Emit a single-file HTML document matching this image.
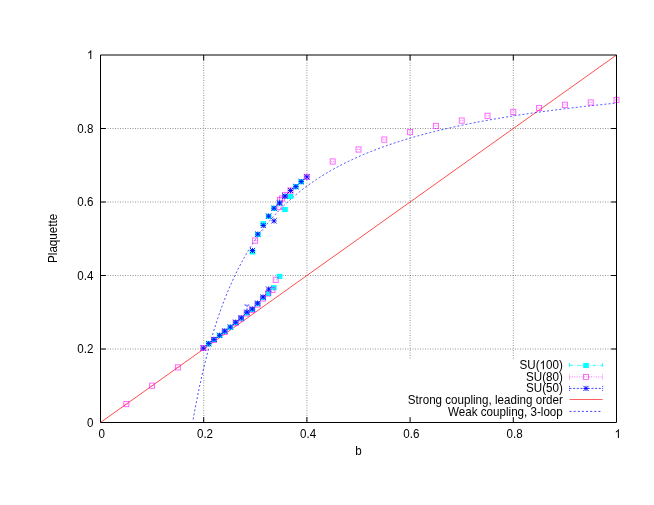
<!DOCTYPE html>
<html><head><meta charset="utf-8"><title>Plaquette vs b</title>
<style>html,body{margin:0;padding:0;background:#fff;}svg{display:block;will-change:transform;}text{font-family:"Liberation Sans",sans-serif;font-size:12.1px;fill:#000;}</style>
</head><body>
<svg width="654" height="505" viewBox="0 0 654 505">
<rect x="0" y="0" width="654" height="505" fill="#fff"/>
<path d="M100 349.0H616.5" stroke="#000" stroke-opacity="0.7" stroke-width="0.6" stroke-dasharray="1 1.5" fill="none"/>
<path d="M100 275.5H616.5" stroke="#000" stroke-opacity="0.7" stroke-width="0.6" stroke-dasharray="1 1.5" fill="none"/>
<path d="M100 202.0H616.5" stroke="#000" stroke-opacity="0.7" stroke-width="0.6" stroke-dasharray="1 1.5" fill="none"/>
<path d="M100 128.5H616.5" stroke="#000" stroke-opacity="0.7" stroke-width="0.6" stroke-dasharray="1 1.5" fill="none"/>
<path d="M203.7 55V422.5" stroke="#000" stroke-opacity="0.7" stroke-width="0.6" stroke-dasharray="1 1.5" fill="none"/>
<path d="M306.9 55V422.5" stroke="#000" stroke-opacity="0.7" stroke-width="0.6" stroke-dasharray="1 1.5" fill="none"/>
<path d="M410.1 55V359.5" stroke="#000" stroke-opacity="0.7" stroke-width="0.6" stroke-dasharray="1 1.5" fill="none"/>
<path d="M513.3 55V359.5" stroke="#000" stroke-opacity="0.7" stroke-width="0.6" stroke-dasharray="1 1.5" fill="none"/>
<path d="M203.7 422.5v-5.4M203.7 55.0v5.4M100.5 349.0h5.4M616.5 349.0h-5.4M306.9 422.5v-5.4M306.9 55.0v5.4M100.5 275.5h5.4M616.5 275.5h-5.4M410.1 422.5v-5.4M410.1 55.0v5.4M100.5 202.0h5.4M616.5 202.0h-5.4M513.3 422.5v-5.4M513.3 55.0v5.4M100.5 128.5h5.4M616.5 128.5h-5.4" stroke="#000" stroke-width="1" fill="none"/>
<path d="M100.5 422.5L616.5 55.0" stroke="#ff0000" stroke-width="0.7" fill="none"/>
<path d="M193.15 419.44 L194.22 413.53 L195.28 407.80 L196.34 402.24 L197.41 396.86 L198.47 391.63 L199.54 386.57 L200.60 381.64 L201.66 376.86 L202.73 372.22 L203.79 367.70 L204.85 363.31 L205.92 359.04 L206.98 354.89 L208.05 350.84 L209.11 346.90 L210.17 343.07 L211.24 339.33 L212.30 335.69 L213.36 332.13 L214.43 328.67 L215.49 325.29 L216.55 321.99 L217.62 318.78 L218.68 315.63 L219.75 312.57 L220.81 309.57 L221.87 306.64 L222.94 303.78 L224.00 300.98 L225.06 298.24 L226.13 295.56 L227.19 292.95 L228.26 290.38 L229.32 287.88 L230.38 285.42 L231.45 283.02 L232.51 280.66 L233.57 278.36 L234.64 276.10 L235.70 273.88 L236.76 271.71 L237.83 269.58 L238.89 267.50 L239.96 265.45 L241.02 263.44 L242.08 261.47 L243.15 259.54 L244.21 257.64 L245.27 255.78 L246.34 253.95 L247.40 252.16 L248.47 250.40 L249.53 248.67 L250.59 246.97 L251.66 245.29 L252.72 243.65 L253.78 242.04 L254.85 240.45 L255.91 238.89 L256.97 237.36 L258.04 235.85 L259.10 234.37 L260.17 232.91 L261.23 231.47 L262.29 230.06 L263.36 228.67 L264.42 227.30 L265.48 225.96 L266.55 224.63 L267.61 223.33 L268.68 222.04 L269.74 220.78 L270.80 219.53 L271.87 218.30 L272.93 217.10 L273.99 215.90 L275.06 214.73 L276.12 213.57 L277.18 212.43 L278.25 211.31 L279.31 210.20 L280.38 209.11 L281.44 208.03 L282.50 206.97 L283.57 205.93 L284.63 204.89 L285.69 203.88 L286.76 202.87 L287.82 201.88 L288.89 200.90 L289.95 199.94 L291.01 198.99 L292.08 198.05 L293.14 197.12 L294.20 196.21 L295.27 195.30 L296.33 194.41 L297.39 193.53 L298.46 192.66 L299.52 191.80 L300.59 190.95 L301.65 190.12 L302.71 189.29 L303.78 188.47 L304.84 187.67 L305.90 186.87 L306.97 186.08 L308.03 185.31 L309.10 184.54 L310.16 183.78 L311.22 183.03 L312.29 182.28 L313.35 181.55 L314.41 180.83 L315.48 180.11 L316.54 179.40 L317.60 178.70 L318.67 178.01 L319.73 177.32 L320.80 176.65 L321.86 175.98 L322.92 175.31 L323.99 174.66 L325.05 174.01 L326.11 173.37 L327.18 172.74 L328.24 172.11 L329.31 171.49 L330.37 170.88 L331.43 170.27 L332.50 169.67 L333.56 169.07 L334.62 168.48 L335.69 167.90 L336.75 167.33 L337.81 166.76 L338.88 166.19 L339.94 165.63 L341.01 165.08 L342.07 164.53 L343.13 163.99 L344.20 163.45 L345.26 162.92 L346.32 162.39 L347.39 161.87 L348.45 161.36 L349.52 160.84 L350.58 160.34 L351.64 159.84 L352.71 159.34 L353.77 158.85 L354.83 158.36 L355.90 157.88 L356.96 157.40 L358.02 156.93 L359.09 156.46 L360.15 155.99 L361.22 155.53 L362.28 155.08 L363.34 154.62 L364.41 154.17 L365.47 153.73 L366.53 153.29 L367.60 152.85 L368.66 152.42 L369.73 151.99 L370.79 151.57 L371.85 151.15 L372.92 150.73 L373.98 150.32 L375.04 149.91 L376.11 149.50 L377.17 149.10 L378.23 148.70 L379.30 148.30 L380.36 147.91 L381.43 147.52 L382.49 147.13 L383.55 146.75 L384.62 146.37 L385.68 145.99 L386.74 145.62 L387.81 145.25 L388.87 144.88 L389.94 144.51 L391.00 144.15 L392.06 143.79 L393.13 143.44 L394.19 143.09 L395.25 142.74 L396.32 142.39 L397.38 142.04 L398.44 141.70 L399.51 141.36 L400.57 141.03 L401.64 140.69 L402.70 140.36 L403.76 140.03 L404.83 139.71 L405.89 139.38 L406.95 139.06 L408.02 138.74 L409.08 138.43 L410.15 138.11 L411.21 137.80 L412.27 137.49 L413.34 137.19 L414.40 136.88 L415.46 136.58 L416.53 136.28 L417.59 135.98 L418.65 135.69 L419.72 135.39 L420.78 135.10 L421.85 134.81 L422.91 134.52 L423.97 134.24 L425.04 133.96 L426.10 133.67 L427.16 133.40 L428.23 133.12 L429.29 132.84 L430.36 132.57 L431.42 132.30 L432.48 132.03 L433.55 131.76 L434.61 131.50 L435.67 131.23 L436.74 130.97 L437.80 130.71 L438.86 130.45 L439.93 130.20 L440.99 129.94 L442.06 129.69 L443.12 129.44 L444.18 129.19 L445.25 128.94 L446.31 128.69 L447.37 128.45 L448.44 128.21 L449.50 127.96 L450.57 127.72 L451.63 127.49 L452.69 127.25 L453.76 127.01 L454.82 126.78 L455.88 126.55 L456.95 126.32 L458.01 126.09 L459.07 125.86 L460.14 125.64 L461.20 125.41 L462.27 125.19 L463.33 124.97 L464.39 124.74 L465.46 124.53 L466.52 124.31 L467.58 124.09 L468.65 123.88 L469.71 123.66 L470.78 123.45 L471.84 123.24 L472.90 123.03 L473.97 122.82 L475.03 122.61 L476.09 122.41 L477.16 122.20 L478.22 122.00 L479.28 121.80 L480.35 121.60 L481.41 121.40 L482.48 121.20 L483.54 121.00 L484.60 120.81 L485.67 120.61 L486.73 120.42 L487.79 120.22 L488.86 120.03 L489.92 119.84 L490.99 119.65 L492.05 119.47 L493.11 119.28 L494.18 119.09 L495.24 118.91 L496.30 118.72 L497.37 118.54 L498.43 118.36 L499.49 118.18 L500.56 118.00 L501.62 117.82 L502.69 117.64 L503.75 117.47 L504.81 117.29 L505.88 117.12 L506.94 116.94 L508.00 116.77 L509.07 116.60 L510.13 116.43 L511.20 116.26 L512.26 116.09 L513.32 115.92 L514.39 115.75 L515.45 115.59 L516.51 115.42 L517.58 115.26 L518.64 115.09 L519.70 114.93 L520.77 114.77 L521.83 114.61 L522.90 114.45 L523.96 114.29 L525.02 114.13 L526.09 113.98 L527.15 113.82 L528.21 113.66 L529.28 113.51 L530.34 113.35 L531.41 113.20 L532.47 113.05 L533.53 112.90 L534.60 112.75 L535.66 112.60 L536.72 112.45 L537.79 112.30 L538.85 112.15 L539.91 112.00 L540.98 111.86 L542.04 111.71 L543.11 111.57 L544.17 111.42 L545.23 111.28 L546.30 111.14 L547.36 111.00 L548.42 110.86 L549.49 110.72 L550.55 110.58 L551.62 110.44 L552.68 110.30 L553.74 110.16 L554.81 110.02 L555.87 109.89 L556.93 109.75 L558.00 109.62 L559.06 109.48 L560.12 109.35 L561.19 109.22 L562.25 109.09 L563.32 108.95 L564.38 108.82 L565.44 108.69 L566.51 108.56 L567.57 108.43 L568.63 108.31 L569.70 108.18 L570.76 108.05 L571.83 107.92 L572.89 107.80 L573.95 107.67 L575.02 107.55 L576.08 107.42 L577.14 107.30 L578.21 107.18 L579.27 107.05 L580.33 106.93 L581.40 106.81 L582.46 106.69 L583.53 106.57 L584.59 106.45 L585.65 106.33 L586.72 106.21 L587.78 106.10 L588.84 105.98 L589.91 105.86 L590.97 105.75 L592.04 105.63 L593.10 105.51 L594.16 105.40 L595.23 105.29 L596.29 105.17 L597.35 105.06 L598.42 104.95 L599.48 104.83 L600.54 104.72 L601.61 104.61 L602.67 104.50 L603.74 104.39 L604.80 104.28 L605.86 104.17 L606.93 104.06 L607.99 103.95 L609.05 103.85 L610.12 103.74 L611.18 103.63 L612.25 103.53 L613.31 103.42 L614.37 103.32 L615.44 103.21 L616.50 103.11" stroke="#0000ff" stroke-width="0.7" stroke-dasharray="2 2.13" fill="none"/>
<g><rect x="205.9" y="341.2" width="5.6" height="5.1" fill="#00ffff"/><rect x="211.2" y="337.1" width="5.6" height="5.1" fill="#00ffff"/><rect x="216.8" y="332.9" width="5.6" height="5.1" fill="#00ffff"/><rect x="221.9" y="328.8" width="5.6" height="5.1" fill="#00ffff"/><rect x="227.5" y="324.8" width="5.6" height="5.1" fill="#00ffff"/><rect x="232.9" y="320.1" width="5.6" height="5.1" fill="#00ffff"/><rect x="238.5" y="315.8" width="5.6" height="5.1" fill="#00ffff"/><rect x="244.1" y="310.4" width="5.6" height="5.1" fill="#00ffff"/><rect x="249.7" y="306.9" width="5.6" height="5.1" fill="#00ffff"/><rect x="254.8" y="301.2" width="5.6" height="5.1" fill="#00ffff"/><rect x="260.3" y="295.1" width="5.6" height="5.1" fill="#00ffff"/><rect x="265.8" y="290.9" width="5.6" height="5.1" fill="#00ffff"/><rect x="271.0" y="285.1" width="5.6" height="5.1" fill="#00ffff"/><rect x="276.7" y="273.8" width="5.6" height="5.1" fill="#00ffff"/><rect x="249.7" y="249.4" width="5.6" height="5.1" fill="#00ffff"/><rect x="255.0" y="232.0" width="5.6" height="5.1" fill="#00ffff"/><rect x="260.4" y="221.2" width="5.6" height="5.1" fill="#00ffff"/><rect x="265.8" y="213.8" width="5.6" height="5.1" fill="#00ffff"/><rect x="271.2" y="205.8" width="5.6" height="5.1" fill="#00ffff"/><rect x="276.7" y="200.6" width="5.6" height="5.1" fill="#00ffff"/><rect x="282.2" y="206.9" width="5.6" height="5.1" fill="#00ffff"/><rect x="282.2" y="193.8" width="5.6" height="5.1" fill="#00ffff"/><rect x="287.7" y="193.9" width="5.6" height="5.1" fill="#00ffff"/><rect x="293.1" y="184.2" width="5.6" height="5.1" fill="#00ffff"/><rect x="298.4" y="179.2" width="5.6" height="5.1" fill="#00ffff"/></g>
<g><rect x="201.0" y="345.4" width="5" height="5.2" fill="none" stroke="#ff00ff" stroke-opacity="0.65" stroke-width="0.9"/><path d="M202.0 348.0h1m1 0h1" stroke="#ff00ff" stroke-opacity="0.55" stroke-width="0.9"/><rect x="211.5" y="337.4" width="5" height="5.2" fill="none" stroke="#ff00ff" stroke-opacity="0.65" stroke-width="0.9"/><path d="M212.5 340.0h1m1 0h1" stroke="#ff00ff" stroke-opacity="0.55" stroke-width="0.9"/><rect x="222.2" y="329.2" width="5" height="5.2" fill="none" stroke="#ff00ff" stroke-opacity="0.65" stroke-width="0.9"/><path d="M223.2 331.8h1m1 0h1" stroke="#ff00ff" stroke-opacity="0.55" stroke-width="0.9"/><rect x="233.2" y="320.4" width="5" height="5.2" fill="none" stroke="#ff00ff" stroke-opacity="0.65" stroke-width="0.9"/><path d="M234.2 323.0h1m1 0h1" stroke="#ff00ff" stroke-opacity="0.55" stroke-width="0.9"/><rect x="238.5" y="315.9" width="5" height="5.2" fill="none" stroke="#ff00ff" stroke-opacity="0.65" stroke-width="0.9"/><path d="M239.5 318.5h1m1 0h1" stroke="#ff00ff" stroke-opacity="0.55" stroke-width="0.9"/><rect x="244.0" y="310.9" width="5" height="5.2" fill="none" stroke="#ff00ff" stroke-opacity="0.65" stroke-width="0.9"/><path d="M245.0 313.5h1m1 0h1" stroke="#ff00ff" stroke-opacity="0.55" stroke-width="0.9"/><rect x="249.5" y="307.4" width="5" height="5.2" fill="none" stroke="#ff00ff" stroke-opacity="0.65" stroke-width="0.9"/><path d="M250.5 310.0h1m1 0h1" stroke="#ff00ff" stroke-opacity="0.55" stroke-width="0.9"/><rect x="255.0" y="301.9" width="5" height="5.2" fill="none" stroke="#ff00ff" stroke-opacity="0.65" stroke-width="0.9"/><path d="M256.0 304.5h1m1 0h1" stroke="#ff00ff" stroke-opacity="0.55" stroke-width="0.9"/><rect x="260.5" y="295.9" width="5" height="5.2" fill="none" stroke="#ff00ff" stroke-opacity="0.65" stroke-width="0.9"/><path d="M261.5 298.5h1m1 0h1" stroke="#ff00ff" stroke-opacity="0.55" stroke-width="0.9"/><rect x="265.5" y="290.9" width="5" height="5.2" fill="none" stroke="#ff00ff" stroke-opacity="0.65" stroke-width="0.9"/><path d="M266.5 293.5h1m1 0h1" stroke="#ff00ff" stroke-opacity="0.55" stroke-width="0.9"/><rect x="269.9" y="287.4" width="5" height="5.2" fill="none" stroke="#ff00ff" stroke-opacity="0.65" stroke-width="0.9"/><path d="M270.9 290.0h1m1 0h1" stroke="#ff00ff" stroke-opacity="0.55" stroke-width="0.9"/><rect x="273.2" y="277.2" width="5" height="5.2" fill="none" stroke="#ff00ff" stroke-opacity="0.65" stroke-width="0.9"/><path d="M274.2 279.8h1m1 0h1" stroke="#ff00ff" stroke-opacity="0.55" stroke-width="0.9"/><rect x="252.6" y="238.0" width="5" height="5.2" fill="none" stroke="#ff00ff" stroke-opacity="0.65" stroke-width="0.9"/><path d="M253.6 240.6h1m1 0h1" stroke="#ff00ff" stroke-opacity="0.55" stroke-width="0.9"/><rect x="277.0" y="204.4" width="5" height="5.2" fill="none" stroke="#ff00ff" stroke-opacity="0.65" stroke-width="0.9"/><path d="M278.0 207.0h1m1 0h1" stroke="#ff00ff" stroke-opacity="0.55" stroke-width="0.9"/><rect x="277.5" y="197.4" width="5" height="5.2" fill="none" stroke="#ff00ff" stroke-opacity="0.65" stroke-width="0.9"/><path d="M278.5 200.0h1m1 0h1" stroke="#ff00ff" stroke-opacity="0.55" stroke-width="0.9"/><rect x="279.5" y="195.9" width="5" height="5.2" fill="none" stroke="#ff00ff" stroke-opacity="0.65" stroke-width="0.9"/><path d="M280.5 198.5h1m1 0h1" stroke="#ff00ff" stroke-opacity="0.55" stroke-width="0.9"/><rect x="282.5" y="192.4" width="5" height="5.2" fill="none" stroke="#ff00ff" stroke-opacity="0.65" stroke-width="0.9"/><path d="M283.5 195.0h1m1 0h1" stroke="#ff00ff" stroke-opacity="0.55" stroke-width="0.9"/><rect x="288.0" y="187.9" width="5" height="5.2" fill="none" stroke="#ff00ff" stroke-opacity="0.65" stroke-width="0.9"/><path d="M289.0 190.5h1m1 0h1" stroke="#ff00ff" stroke-opacity="0.55" stroke-width="0.9"/><rect x="304.3" y="174.3" width="5" height="5.2" fill="none" stroke="#ff00ff" stroke-opacity="0.65" stroke-width="0.9"/><path d="M305.3 176.9h1m1 0h1" stroke="#ff00ff" stroke-opacity="0.55" stroke-width="0.9"/><rect x="123.8" y="401.5" width="5" height="5.2" fill="none" stroke="#ff00ff" stroke-opacity="0.65" stroke-width="0.9"/><path d="M124.8 404.1h1m1 0h1" stroke="#ff00ff" stroke-opacity="0.55" stroke-width="0.9"/><rect x="149.6" y="383.1" width="5" height="5.2" fill="none" stroke="#ff00ff" stroke-opacity="0.65" stroke-width="0.9"/><path d="M150.6 385.8h1m1 0h1" stroke="#ff00ff" stroke-opacity="0.55" stroke-width="0.9"/><rect x="175.4" y="364.8" width="5" height="5.2" fill="none" stroke="#ff00ff" stroke-opacity="0.65" stroke-width="0.9"/><path d="M176.4 367.4h1m1 0h1" stroke="#ff00ff" stroke-opacity="0.55" stroke-width="0.9"/><rect x="330.2" y="158.9" width="5" height="5.2" fill="none" stroke="#ff00ff" stroke-opacity="0.65" stroke-width="0.9"/><path d="M331.2 161.5h1m1 0h1" stroke="#ff00ff" stroke-opacity="0.55" stroke-width="0.9"/><rect x="356.0" y="146.9" width="5" height="5.2" fill="none" stroke="#ff00ff" stroke-opacity="0.65" stroke-width="0.9"/><path d="M357.0 149.5h1m1 0h1" stroke="#ff00ff" stroke-opacity="0.55" stroke-width="0.9"/><rect x="381.8" y="137.0" width="5" height="5.2" fill="none" stroke="#ff00ff" stroke-opacity="0.65" stroke-width="0.9"/><path d="M382.8 139.6h1m1 0h1" stroke="#ff00ff" stroke-opacity="0.55" stroke-width="0.9"/><rect x="407.6" y="129.5" width="5" height="5.2" fill="none" stroke="#ff00ff" stroke-opacity="0.65" stroke-width="0.9"/><path d="M408.6 132.1h1m1 0h1" stroke="#ff00ff" stroke-opacity="0.55" stroke-width="0.9"/><rect x="433.4" y="123.3" width="5" height="5.2" fill="none" stroke="#ff00ff" stroke-opacity="0.65" stroke-width="0.9"/><path d="M434.4 125.9h1m1 0h1" stroke="#ff00ff" stroke-opacity="0.55" stroke-width="0.9"/><rect x="459.2" y="118.0" width="5" height="5.2" fill="none" stroke="#ff00ff" stroke-opacity="0.65" stroke-width="0.9"/><path d="M460.2 120.6h1m1 0h1" stroke="#ff00ff" stroke-opacity="0.55" stroke-width="0.9"/><rect x="485.0" y="113.2" width="5" height="5.2" fill="none" stroke="#ff00ff" stroke-opacity="0.65" stroke-width="0.9"/><path d="M486.0 115.8h1m1 0h1" stroke="#ff00ff" stroke-opacity="0.55" stroke-width="0.9"/><rect x="510.8" y="109.3" width="5" height="5.2" fill="none" stroke="#ff00ff" stroke-opacity="0.65" stroke-width="0.9"/><path d="M511.8 111.9h1m1 0h1" stroke="#ff00ff" stroke-opacity="0.55" stroke-width="0.9"/><rect x="536.6" y="105.4" width="5" height="5.2" fill="none" stroke="#ff00ff" stroke-opacity="0.65" stroke-width="0.9"/><path d="M537.6 108.0h1m1 0h1" stroke="#ff00ff" stroke-opacity="0.55" stroke-width="0.9"/><rect x="562.4" y="102.2" width="5" height="5.2" fill="none" stroke="#ff00ff" stroke-opacity="0.65" stroke-width="0.9"/><path d="M563.4 104.8h1m1 0h1" stroke="#ff00ff" stroke-opacity="0.55" stroke-width="0.9"/><rect x="588.2" y="99.9" width="5" height="5.2" fill="none" stroke="#ff00ff" stroke-opacity="0.65" stroke-width="0.9"/><path d="M589.2 102.5h1m1 0h1" stroke="#ff00ff" stroke-opacity="0.55" stroke-width="0.9"/><rect x="614.0" y="97.3" width="5" height="5.2" fill="none" stroke="#ff00ff" stroke-opacity="0.65" stroke-width="0.9"/><path d="M615.0 99.9h1m1 0h1" stroke="#ff00ff" stroke-opacity="0.55" stroke-width="0.9"/></g>
<g><path d="M200.7 348.0h5.2M203.3 345.4v5.2M200.7 345.4l5.2 5.2M200.7 350.6l5.2 -5.2" stroke="#0000ff" stroke-width="0.9" fill="none"/><path d="M206.1 343.6h5.2M208.7 341.0v5.2M206.1 341.0l5.2 5.2M206.1 346.2l5.2 -5.2" stroke="#0000ff" stroke-width="0.9" fill="none"/><path d="M211.4 339.4h5.2M214.0 336.8v5.2M211.4 336.8l5.2 5.2M211.4 342.0l5.2 -5.2" stroke="#0000ff" stroke-width="0.9" fill="none"/><path d="M217.0 335.3h5.2M219.6 332.7v5.2M217.0 332.7l5.2 5.2M217.0 337.9l5.2 -5.2" stroke="#0000ff" stroke-width="0.9" fill="none"/><path d="M222.1 331.1h5.2M224.7 328.5v5.2M222.1 328.5l5.2 5.2M222.1 333.7l5.2 -5.2" stroke="#0000ff" stroke-width="0.9" fill="none"/><path d="M227.7 327.0h5.2M230.3 324.4v5.2M227.7 324.4l5.2 5.2M227.7 329.6l5.2 -5.2" stroke="#0000ff" stroke-width="0.9" fill="none"/><path d="M233.1 322.2h5.2M235.7 319.6v5.2M233.1 319.6l5.2 5.2M233.1 324.8l5.2 -5.2" stroke="#0000ff" stroke-width="0.9" fill="none"/><path d="M238.7 317.9h5.2M241.3 315.3v5.2M238.7 315.3l5.2 5.2M238.7 320.5l5.2 -5.2" stroke="#0000ff" stroke-width="0.9" fill="none"/><path d="M244.3 312.2h5.2M246.9 309.6v5.2M244.3 309.6l5.2 5.2M244.3 314.8l5.2 -5.2" stroke="#0000ff" stroke-width="0.9" fill="none"/><path d="M249.7 309.0h5.2M252.3 306.4v5.2M249.7 306.4l5.2 5.2M249.7 311.6l5.2 -5.2" stroke="#0000ff" stroke-width="0.9" fill="none"/><path d="M255.0 303.2h5.2M257.6 300.6v5.2M255.0 300.6l5.2 5.2M255.0 305.8l5.2 -5.2" stroke="#0000ff" stroke-width="0.9" fill="none"/><path d="M260.5 297.0h5.2M263.1 294.4v5.2M260.5 294.4l5.2 5.2M260.5 299.6l5.2 -5.2" stroke="#0000ff" stroke-width="0.9" fill="none"/><path d="M266.0 289.1h5.2M268.6 286.5v5.2M266.0 286.5l5.2 5.2M266.0 291.7l5.2 -5.2" stroke="#0000ff" stroke-width="0.9" fill="none"/><path d="M249.9 250.5h5.2M252.5 247.9v5.2M249.9 247.9l5.2 5.2M249.9 253.1l5.2 -5.2" stroke="#0000ff" stroke-width="0.9" fill="none"/><path d="M255.2 234.1h5.2M257.8 231.5v5.2M255.2 231.5l5.2 5.2M255.2 236.7l5.2 -5.2" stroke="#0000ff" stroke-width="0.9" fill="none"/><path d="M260.6 225.5h5.2M263.2 222.9v5.2M260.6 222.9l5.2 5.2M260.6 228.1l5.2 -5.2" stroke="#0000ff" stroke-width="0.9" fill="none"/><path d="M266.0 216.1h5.2M268.6 213.5v5.2M266.0 213.5l5.2 5.2M266.0 218.7l5.2 -5.2" stroke="#0000ff" stroke-width="0.9" fill="none"/><path d="M271.4 220.9h5.2M274.0 218.3v5.2M271.4 218.3l5.2 5.2M271.4 223.5l5.2 -5.2" stroke="#0000ff" stroke-width="0.9" fill="none"/><path d="M271.4 208.2h5.2M274.0 205.6v5.2M271.4 205.6l5.2 5.2M271.4 210.8l5.2 -5.2" stroke="#0000ff" stroke-width="0.9" fill="none"/><path d="M276.9 203.0h5.2M279.5 200.4v5.2M276.9 200.4l5.2 5.2M276.9 205.6l5.2 -5.2" stroke="#0000ff" stroke-width="0.9" fill="none"/><path d="M282.4 196.1h5.2M285.0 193.5v5.2M282.4 193.5l5.2 5.2M282.4 198.7l5.2 -5.2" stroke="#0000ff" stroke-width="0.9" fill="none"/><path d="M287.9 190.5h5.2M290.5 187.9v5.2M287.9 187.9l5.2 5.2M287.9 193.1l5.2 -5.2" stroke="#0000ff" stroke-width="0.9" fill="none"/><path d="M293.3 186.6h5.2M295.9 184.0v5.2M293.3 184.0l5.2 5.2M293.3 189.2l5.2 -5.2" stroke="#0000ff" stroke-width="0.9" fill="none"/><path d="M298.6 181.6h5.2M301.2 179.0v5.2M298.6 179.0l5.2 5.2M298.6 184.2l5.2 -5.2" stroke="#0000ff" stroke-width="0.9" fill="none"/><path d="M304.2 176.9h5.2M306.8 174.3v5.2M304.2 174.3l5.2 5.2M304.2 179.5l5.2 -5.2" stroke="#0000ff" stroke-width="0.9" fill="none"/></g>
<path d="M244.4 305h5M247 305v5" stroke="#0000ff" stroke-width="0.75" stroke-dasharray="2 1.3" fill="none"/>
<path d="M100.5 55.0V422.5H616.5V55.0Z" stroke="#000" stroke-width="1" fill="none"/>
<path d="M569.5 365.3H602.6" stroke="#00ffff" stroke-width="0.8" stroke-dasharray="3.6 1.6 0.9 1.6" fill="none"/>
<path d="M569.5 363.0v4M602.6 363.0v4" stroke="#00ffff" stroke-width="0.8" fill="none"/>
<rect x="583.2" y="362.9" width="5.6" height="5.1" fill="#00ffff"/>
<path d="M569.5 376.9H602.6" stroke="#ff00ff" stroke-opacity="0.7" stroke-width="0.8" stroke-dasharray="1 1.4" fill="none"/>
<path d="M569.5 374.4v5M602.6 374.4v5" stroke="#ff00ff" stroke-opacity="0.7" stroke-width="0.8" stroke-dasharray="1 1" fill="none"/>
<rect x="583.5" y="374.4" width="5" height="5" fill="none" stroke="#ff00ff" stroke-opacity="0.65" stroke-width="0.9"/>
<path d="M569.5 388.4H602.6" stroke="#0000ff" stroke-width="0.75" stroke-dasharray="2 1.66" fill="none"/>
<path d="M569.5 385.9v5M602.6 385.9v5" stroke="#0000ff" stroke-width="0.75" stroke-dasharray="1 1" fill="none"/>
<path d="M583.4 388.4h5.2M586.0 385.8v5.2M583.4 385.8l5.2 5.2M583.4 391.0l5.2 -5.2" stroke="#0000ff" stroke-width="0.9" fill="none"/>
<path d="M569.5 399.5H602.6" stroke="#ff0000" stroke-width="0.62" fill="none"/>
<path d="M569.5 411.4H600.6" stroke="#0000ff" stroke-width="0.75" stroke-dasharray="2 2.13" fill="none"/>
<text transform="translate(546.01 369.3) scale(0.96 1)" text-anchor="start">00)</text>
<path transform="translate(539.56 369.3) scale(0.005672 0.005908)" d="M763 0H583V-1147Q518 -1085 412.5 -1023T223 -930V-1104Q374 -1175 487 -1276T647 -1472H763Z" fill="#000"/>
<text transform="translate(539.56 369.3) scale(0.96 1)" text-anchor="end">SU(</text>
<text transform="translate(562.8 380.6) scale(0.96 1)" text-anchor="end">SU(80)</text>
<text transform="translate(562.8 391.9) scale(0.96 1)" text-anchor="end">SU(50)</text>
<text transform="translate(562.8 403.8) scale(0.96 1)" text-anchor="end">Strong coupling, leading order</text>
<text transform="translate(562.8 415.5) scale(0.96 1)" text-anchor="end">Weak coupling, 3-loop</text>
<text transform="translate(101.8 438) scale(0.96 1)" text-anchor="middle">0</text>
<text transform="translate(93.4 426.5) scale(0.96 1)" text-anchor="end">0</text>
<text transform="translate(205.0 438) scale(0.96 1)" text-anchor="middle">0.2</text>
<text transform="translate(93.4 353.0) scale(0.96 1)" text-anchor="end">0.2</text>
<text transform="translate(308.2 438) scale(0.96 1)" text-anchor="middle">0.4</text>
<text transform="translate(93.4 279.5) scale(0.96 1)" text-anchor="end">0.4</text>
<text transform="translate(411.4 438) scale(0.96 1)" text-anchor="middle">0.6</text>
<text transform="translate(93.4 206.0) scale(0.96 1)" text-anchor="end">0.6</text>
<text transform="translate(514.6 438) scale(0.96 1)" text-anchor="middle">0.8</text>
<text transform="translate(93.4 132.5) scale(0.96 1)" text-anchor="end">0.8</text>
<path transform="translate(614.57 438) scale(0.005672 0.005908)" d="M763 0H583V-1147Q518 -1085 412.5 -1023T223 -930V-1104Q374 -1175 487 -1276T647 -1472H763Z" fill="#000"/>
<path transform="translate(86.94 59.0) scale(0.005672 0.005908)" d="M763 0H583V-1147Q518 -1085 412.5 -1023T223 -930V-1104Q374 -1175 487 -1276T647 -1472H763Z" fill="#000"/>
<text transform="translate(358.5 455) scale(0.96 1)" text-anchor="middle">b</text>
<text transform="translate(56.8 238.4) rotate(-90) scale(0.96 0.98)" text-anchor="middle">Plaquette</text>
</svg></body></html>
